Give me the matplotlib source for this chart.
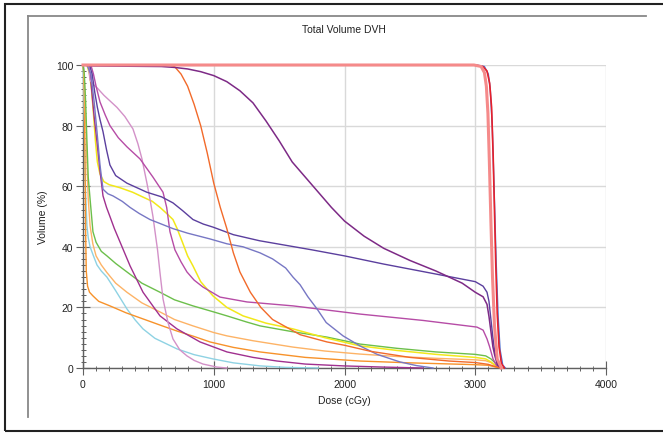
import matplotlib
matplotlib.use('Agg')
import matplotlib.pyplot as plt
from matplotlib.ticker import MultipleLocator
from matplotlib.lines import Line2D
from matplotlib.patches import Rectangle

plt.rcParams['font.family'] = ['Liberation Sans', 'DejaVu Sans']

# DVH curves: dose (cGy) and volume (%)
ptv_dose = [0, 2990, 3045, 3070, 3085, 3097, 3108, 3120, 3132, 3147, 3168, 3200]
ptv_vol = [100, 100, 99.5, 97.5, 93, 84, 68, 48, 30, 14, 3, 0]

blue_dose = [0, 3010, 3070, 3100, 3115, 3130, 3145, 3160, 3175, 3190, 3210, 3230]
blue_vol = [100, 100, 99.5, 97, 92, 80, 58, 35, 17, 6, 1, 0]

red_dose = [0, 2990, 3058, 3090, 3110, 3125, 3137, 3147, 3157, 3168, 3182, 3200, 3222]
red_vol = [100, 100, 99.5, 98, 94, 86, 70, 52, 34, 18, 7, 1.5, 0]

purple_dose = [0, 60, 600, 700, 800, 900, 1000, 1100, 1200, 1300, 1400, 1500, 1600, 1700,
               1800, 1900, 2000, 2150, 2300, 2500, 2700, 2900, 3000, 3060, 3090, 3105,
               3120, 3135, 3150, 3170, 3200]
purple_vol = [100, 99.7, 99.5, 99.2, 98.7, 97.8, 96.5, 94.5, 91.5, 87.5, 81.5, 75, 68, 63,
              58, 53, 48.5, 43.5, 39.5, 35.5, 32, 28, 25, 23.5, 21, 17, 12, 7, 4, 1, 0]

slate_dose = [0, 50, 70, 90, 110, 130, 153, 180, 206, 250, 336, 489, 600, 688, 760, 841, 920,
              994, 1150, 1350, 1550, 1750, 2000, 2300, 2700, 3000, 3060, 3090, 3105, 3120,
              3135, 3150, 3175, 3200]
slate_vol = [100, 100, 97, 91, 86, 82, 78, 72, 67, 63.5, 61, 58, 56.5, 54.5, 52, 49, 47.5,
             46.5, 44, 42, 40.5, 39, 37, 34.3, 31, 28.5, 27, 25, 22, 16, 10, 5, 1, 0]

mslate_dose = [0, 30, 60, 85, 107, 130, 153, 190, 229, 300, 360, 430, 512, 600, 688, 800, 971,
               1100, 1224, 1354, 1450, 1550, 1606, 1660, 1720, 1790, 1860, 1989, 2118, 2250,
               2424, 2550, 2677]
mslate_vol = [100, 100, 97, 88, 78, 67, 59, 57.5, 56.8, 55, 53, 51, 49, 47.5, 46, 44.5, 42.6,
              41, 40, 38, 36, 33, 30, 27.5, 23.5, 19.5, 15, 10.6, 7.3, 4.5, 2, 0.8, 0]

ored_dose = [0, 650, 700, 750, 800, 850, 900, 950, 1000, 1050, 1100, 1150, 1200, 1280, 1360,
             1450, 1660, 1866, 2000, 2200, 2500, 2800, 3000, 3100, 3150, 3200]
ored_vol = [100, 100, 99.5, 97, 93, 87, 80, 71, 61, 53, 46, 38, 31.7, 25, 20, 16, 11, 8.6,
            7.5, 5.5, 3.5, 2.3, 1.8, 1.2, 0.5, 0]

yellow_dose = [0, 30, 50, 65, 80, 95, 110, 130, 160, 200, 283, 380, 459, 530, 589, 640, 688,
               720, 765, 800, 841, 900, 994, 1100, 1224, 1400, 1606, 1850, 2118, 2400, 2700,
               3000, 3080, 3120, 3150, 3180, 3210]
yellow_vol = [100, 100, 97, 92, 84, 75, 68, 64, 61.5, 60.5, 59.5, 58, 56.4, 55, 53, 51, 49,
              46, 41, 37, 33.7, 28.5, 23.8, 20, 17.2, 14.8, 12.9, 10, 7.3, 5.8, 4.5, 3.5, 3,
              2, 1, 0.3, 0]

green_dose = [0, 10, 20, 30, 40, 54, 76, 100, 140, 183, 250, 336, 450, 589, 700, 841, 1000,
              1101, 1250, 1354, 1600, 1866, 2118, 2400, 2700, 3000, 3080, 3120, 3150, 3180, 3210]
green_vol = [100, 97, 88, 75, 63, 55.8, 45, 41.5, 38.5, 37, 34.5, 31.7, 28, 25, 22.5, 20.5,
             18.5, 17.2, 15.2, 13.9, 12, 10.2, 7.9, 6.5, 5.3, 4.5, 4, 3, 1.8, 0.5, 0]

sandy_dose = [0, 10, 20, 30, 40, 54, 75, 100, 140, 183, 250, 336, 450, 589, 700, 841, 1000,
              1101, 1300, 1606, 1850, 2118, 2400, 2700, 3000, 3080, 3120, 3160, 3200]
sandy_vol = [100, 95, 82, 68, 56, 47, 41, 37, 34, 31.5, 28, 25, 21.5, 18.5, 16, 13.9, 11.7,
             10.6, 9, 6.9, 5.6, 4.6, 3.8, 3.2, 2.7, 2.4, 1.8, 0.6, 0]

dorange_dose = [0, 5, 10, 15, 20, 25, 35, 50, 76, 120, 206, 330, 459, 600, 719, 850, 971, 1150,
                1354, 1700, 2118, 2500, 3000, 3100, 3150, 3200]
dorange_vol = [100, 98, 90, 70, 45, 32, 27, 25, 23.8, 22, 20.5, 18.2, 16.2, 14, 12.2, 10.4,
               8.6, 6.8, 5.3, 3.5, 2.3, 1.7, 1.1, 0.9, 0.4, 0]

sky_dose = [0, 5, 10, 15, 20, 30, 40, 54, 80, 107, 140, 183, 250, 336, 400, 459, 550, 719, 850,
            994, 1150, 1354, 1550, 1800]
sky_vol = [100, 92, 80, 68, 58, 47, 43, 40, 37, 34, 32, 30, 25.5, 19.5, 15.8, 12.9, 9.8, 6.3,
           4.4, 3, 1.7, 0.7, 0.2, 0]

orchid_dose = [0, 40, 54, 80, 107, 160, 210, 260, 320, 382, 420, 451, 489, 512, 535, 570, 590,
               612, 650, 688, 740, 795, 850, 918, 1025, 1100]
orchid_vol = [100, 100, 95, 93.5, 92.5, 90, 88, 86, 83, 78.9, 74, 69, 61, 55.8, 50, 39, 31,
              22.8, 15, 9.6, 6, 4, 2.5, 1.3, 0.3, 0]

morchid_dose = [0, 60, 80, 100, 130, 170, 206, 270, 336, 436, 535, 612, 640, 665, 703, 750,
                795, 850, 918, 1048, 1254, 1606, 2118, 2600, 3013, 3060, 3090, 3110, 3136,
                3160, 3190]
morchid_vol = [100, 100, 97, 93, 87.8, 83.5, 80, 76, 73, 69, 63, 58, 53, 45, 39, 35, 31.7, 29,
               26.7, 23.4, 21.8, 20.5, 17.8, 15.7, 13.5, 12.5, 9.6, 7, 3, 1, 0]

dmag_dose = [0, 40, 55, 70, 85, 107, 130, 153, 180, 206, 240, 283, 360, 459, 589, 719, 895,
             1101, 1300, 1484, 1700, 1989, 2300, 2600]
dmag_vol = [100, 100, 97, 90, 83, 74.6, 65, 56.8, 53, 50, 46, 41.6, 33.7, 25, 17.2, 12.9,
            8.6, 5.3, 3.5, 2.3, 1.3, 0.7, 0.3, 0]

curves = [
    (sky_dose, sky_vol, '#8ed2e3', 1.0),
    (dorange_dose, dorange_vol, '#f7922a', 1.0),
    (sandy_dose, sandy_vol, '#fdb366', 1.0),
    (green_dose, green_vol, '#6cbf4b', 1.0),
    (yellow_dose, yellow_vol, '#f2e81a', 1.1),
    (dmag_dose, dmag_vol, '#a0308f', 1.0),
    (orchid_dose, orchid_vol, '#d391c8', 1.0),
    (morchid_dose, morchid_vol, '#b64ca6', 1.0),
    (mslate_dose, mslate_vol, '#7777c4', 1.0),
    (slate_dose, slate_vol, '#5b3f9e', 1.0),
    (ored_dose, ored_vol, '#f26a2a', 1.0),
    (purple_dose, purple_vol, '#7d2a86', 1.1),
    (blue_dose, blue_vol, '#4a6fd0', 1.0),
    (red_dose, red_vol, '#e8202a', 1.2),
    (ptv_dose, ptv_vol, '#f58a8a', 2.2),
]

fig = plt.figure(figsize=(6.63, 4.35), dpi=100)
ax = fig.add_axes([83 / 663, 1 - 369 / 435, (606 - 83) / 663, (369 - 66) / 435])

for i, (d, v, c, lw) in enumerate(curves):
    ax.plot(d, v, color=c, lw=lw, clip_on=False, zorder=3 + i * 0.01)

ax.set_xlim(0, 4000)
ax.set_ylim(0, 100)
ax.xaxis.set_major_locator(MultipleLocator(1000))
ax.xaxis.set_minor_locator(MultipleLocator(100))
ax.yaxis.set_major_locator(MultipleLocator(20))
ax.yaxis.set_minor_locator(MultipleLocator(2))
ax.grid(True, which='major', color='#d9d9d9', lw=1)
ax.set_axisbelow(True)

for s in ['top', 'right']:
    ax.spines[s].set_visible(False)
for s in ['left', 'bottom']:
    ax.spines[s].set_color('#606060')
    ax.spines[s].set_linewidth(1)

ax.tick_params(which='major', direction='inout', length=10, width=0.8, color='#606060',
               labelsize=7.5, labelcolor='#222222', pad=2)
ax.tick_params(which='minor', direction='inout', length=3.6, width=0.7, color='#606060')
ax.tick_params(axis='x', which='major', pad=3)

ax.set_xlabel('Dose (cGy)', fontsize=7.5, color='#222222', labelpad=4)
ax.set_ylabel('Volume (%)', fontsize=7.5, color='#222222', labelpad=6)

fig.text(344 / 663, 1 - 30 / 435, 'Total Volume DVH', ha='center', va='center',
         fontsize=7.5, color='#222222')

# outer frame and inner panel edges
fig.patches.append(Rectangle((5 / 663, 3 / 435), 1.2, 427 / 435, transform=fig.transFigure,
                             fill=False, edgecolor='#222222', lw=1.5))
fig.lines.append(Line2D([28 / 663, 646 / 663], [1 - 17 / 435, 1 - 17 / 435],
                        transform=fig.transFigure, color='#888888', lw=1.3))
fig.lines.append(Line2D([28 / 663, 28 / 663], [1 - 17 / 435, 1 - 418 / 435],
                        transform=fig.transFigure, color='#888888', lw=1.3))

fig.savefig('out.png', dpi=100)
